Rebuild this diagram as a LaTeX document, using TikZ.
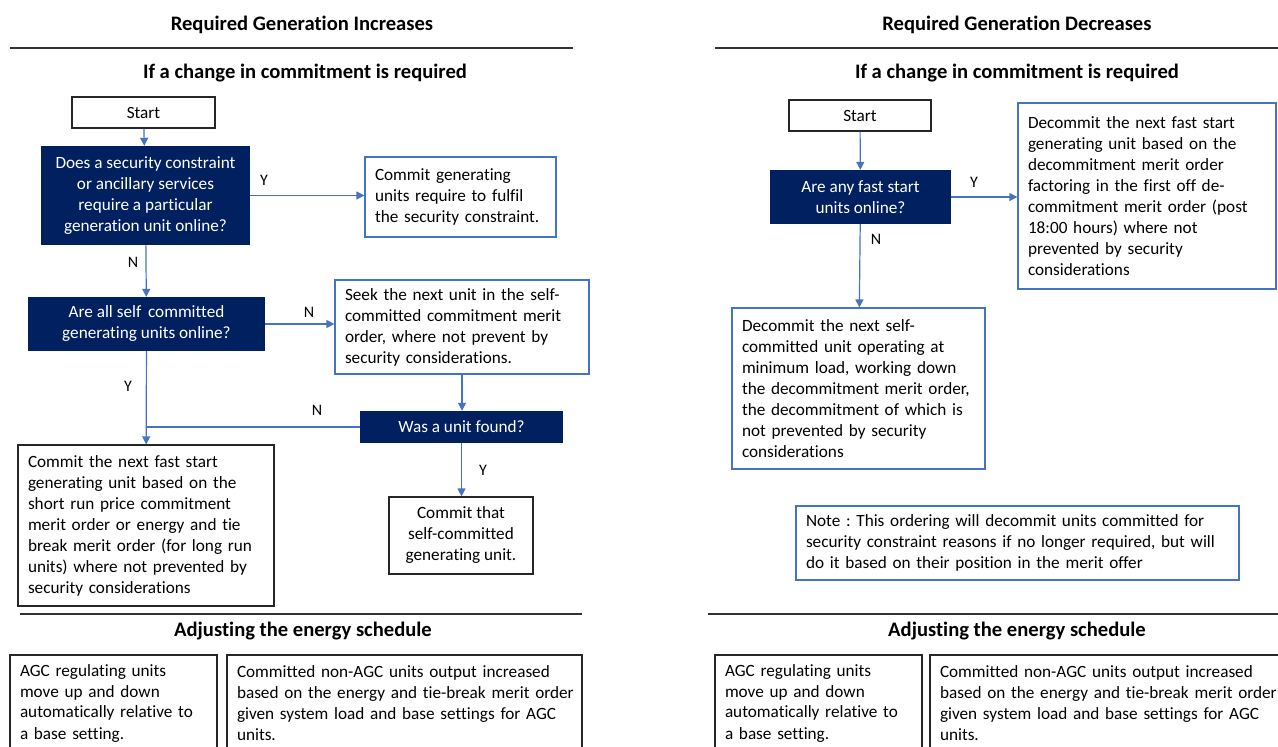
\documentclass[tikz,border=0pt]{standalone}
\usepackage{fontspec}
\setmainfont{Carlito}[Ligatures=NoCommon]
\usetikzlibrary{arrows.meta}
\definecolor{navy}{RGB}{0,32,96}
\definecolor{bblue}{RGB}{68,114,196}
\frenchspacing
\hyphenpenalty=10000
\begin{document}
\begin{tikzpicture}[x=1pt,y=-1pt,
	every node/.style={font=\fontsize{17.2}{21}\selectfont,inner sep=0pt},
	box/.style={draw,line width=1.2pt,inner xsep=10pt,inner ysep=0pt,align=left},
	blk/.style={box,draw=black!85},
	blu/.style={box,draw=bblue},
	dark/.style={fill=navy,text=white,align=center},
	hd/.style={font=\bfseries\fontsize{20.6}{24}\selectfont},
	sub/.style={font=\bfseries\fontsize{20.6}{24}\selectfont},
	yn/.style={font=\fontsize{16}{19}\selectfont},
	arr/.style={draw=bblue,line width=1.2pt,-{Triangle[length=8pt,width=8pt]}},
	ln/.style={draw=bblue,line width=1.2pt},
	sep/.style={draw=black!80,line width=1.4pt}]
\clip (0,0) rectangle (1278,747);
\node[hd] (ttlL) at (302,25) {Required Generation Increases};
\draw[sep] (10,48) -- (573,48);
\node[sub] (subL) at (305,73) {If a change in commitment is required};
\node[blk,align=center,minimum width=143pt,minimum height=31pt] (startL) at (143.5,112.5) {Start};
\node[dark,minimum width=209pt,minimum height=99pt] (q1L) at (145.5,195.5)
	{Does a security constraint\\or ancillary services\\require a particular\\generation unit online?};
\node[blu,text width=171pt,minimum height=80pt] (cgL) at (460.5,197)
	{Commit generating\\units require to fulfil\\the security constraint.};
\node[dark,minimum width=237pt,minimum height=54pt] (q2L) at (146.5,324)
	{Are all self\, committed\\generating units online?};
\node[blu,text width=234pt,minimum height=94pt] (seekL) at (462,327)
	{Seek the next unit in the self-\\committed commitment merit\\order, where not prevent by\\security considerations.};
\node[dark,minimum width=203pt,minimum height=32pt] (q3L) at (461.5,427) {Was a unit found?};
\node[blk,text width=236pt,minimum height=161pt] (fastL) at (146,525.5)
	{Commit the next fast start\\generating unit based on the\\short run price commitment\\merit order or energy and tie\\break merit order (for long run\\units) where not prevented by\\security considerations};
\node[blk,align=center,minimum width=144pt,minimum height=77pt] (thatL) at (461,535.5)
	{Commit that\\self-committed\\generating unit.};
\draw[sep] (20,614) -- (582,614);
\node[sub] (adjL) at (303,631) {Adjusting the energy schedule};
\node[blk,text width=187pt,minimum height=96pt] (agcL) at (113.5,703)
	{AGC regulating units\\move up and down\\automatically relative to\\a base setting.};
\node[blk,text width=335pt,minimum height=96pt] (nonL) at (404.5,703)
	{Committed non-AGC units output increased\\\mbox{based on the energy and tie-break merit order}\\given system load and base settings for AGC\\units.};
\draw[arr] (startL) -- (q1L);
\draw[arr] (q1L.east) -- (q1L.east -| cgL.west);
\draw[arr] (q1L) -- (q2L);
\draw[arr] (q2L.east) -- (q2L.east -| seekL.west);
\draw[arr] (seekL.south) -- (seekL.south |- q3L.north);
\draw[arr] (q2L) -- (fastL);
\draw[ln] (q3L.west) -- (q3L.west -| fastL.north);
\draw[arr] (q3L.south) -- (q3L.south |- thatL.north);
\node[yn] (y1L) at (264,180) {Y};
\node[yn] (n1L) at (133,262) {N};
\node[yn] (n2L) at (309,312) {N};
\node[yn] (y2L) at (128,386) {Y};
\node[yn] (n3L) at (317,410) {N};
\node[yn] (y3L) at (483,470) {Y};
\node[hd] (ttlR) at (1017,25) {Required Generation Decreases};
\draw[sep] (715,48) -- (1278,48);
\node[sub] (subR) at (1017,73) {If a change in commitment is required};
\node[blk,align=center,minimum width=142pt,minimum height=31pt] (startR) at (860,115.5) {Start};
\node[dark,minimum width=181pt,minimum height=54pt] (q1R) at (860.5,197)
	{Are any fast start\\units online?};
\node[blu,text width=238pt,minimum height=186pt] (decR) at (1147,196)
	{Decommit the next fast start\\generating unit based on the\\decommitment merit order\\factoring in the first off de-\\commitment merit order (post\\18:00 hours) where not\\prevented by security\\considerations};
\node[blu,text width=233pt,minimum height=161pt] (selfR) at (858.5,388.5)
	{Decommit the next self-\\committed unit operating at\\minimum load, working down\\the decommitment merit order,\\the decommitment of which is\\not prevented by security\\considerations};
\node[blu,text width=423pt,minimum height=74pt] (noteR) at (1017.5,543)
	{Note : This ordering will decommit units committed for\\security constraint reasons if no longer required, but will\\do it based on their position in the merit offer};
\draw[sep] (708,614) -- (1278,614);
\node[sub] (adjR) at (1017,631) {Adjusting the energy schedule};
\node[blk,text width=187pt,minimum height=96pt] (agcR) at (818.5,703)
	{AGC regulating units\\move up and down\\automatically relative to\\a base setting.};
\node[blk,text width=345pt,minimum height=96pt] (nonR) at (1112.5,703)
	{Committed non-AGC units output increased\\based on the energy and tie-break merit order\\given system load and base settings for AGC\\units.};
\draw[arr] (startR) -- (q1R);
\draw[arr] (q1R.east) -- (q1R.east -| decR.west);
\draw[arr] (q1R) -- (selfR);
\node[yn] (yR) at (974,182) {Y};
\node[yn] (nR) at (876,239) {N};
\end{tikzpicture}
\end{document}
